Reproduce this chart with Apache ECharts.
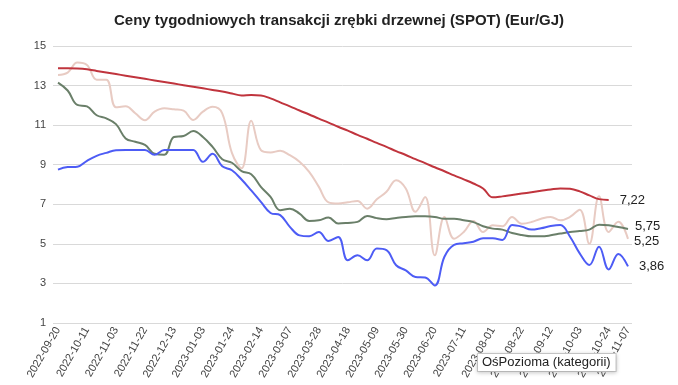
<!DOCTYPE html>
<html>
<head>
<meta charset="utf-8">
<script src="https://cdn.jsdelivr.net/npm/echarts@6/dist/echarts.min.js"></script>
<style>
html,body{margin:0;padding:0;background:#fff;}
#chart{width:678px;height:385px;}
</style>
</head>
<body>
<div id="chart"></div>
<script>
const titleText = 'Ceny tygodniowych transakcji zrębki drzewnej (SPOT) (Eur/GJ)';
const axisTitle = 'OśPozioma (kategorii)';

const categories = [
  '2022-09-20','2022-09-27','2022-10-04','2022-10-11','2022-10-18','2022-10-25',
  '2022-11-03','2022-11-08','2022-11-15','2022-11-22','2022-11-29','2022-12-06',
  '2022-12-13','2022-12-20','2022-12-27','2023-01-03','2023-01-10','2023-01-17',
  '2023-01-24','2023-01-31','2023-02-07','2023-02-14','2023-02-21','2023-02-28',
  '2023-03-07','2023-03-14','2023-03-21','2023-03-28','2023-04-04','2023-04-11',
  '2023-04-18','2023-04-25','2023-05-02','2023-05-09','2023-05-16','2023-05-23',
  '2023-05-30','2023-06-06','2023-06-13','2023-06-20','2023-06-27','2023-07-04',
  '2023-07-11','2023-07-18','2023-07-25','2023-08-01','2023-08-08','2023-08-15',
  '2023-08-22','2023-08-29','2023-09-05','2023-09-12','2023-09-19','2023-09-26',
  '2023-10-03','2023-10-10','2023-10-17','2023-10-24','2023-10-31','2023-11-07'
];

const redSeries = [
  13.87,13.87,13.86,13.82,13.74,13.66,13.58,13.5,13.42,13.34,
  13.26,13.18,13.1,13.02,12.94,12.86,12.78,12.7,12.6,12.5,
  12.52,12.5,12.35,12.15,11.95,11.74,11.54,11.33,11.13,10.92,
  10.72,10.51,10.31,10.1,9.9,9.69,9.49,9.28,9.08,8.87,
  8.67,8.46,8.26,8.05,7.8,7.35,7.4,7.47,7.54,7.61,
  7.68,7.75,7.8,7.78,7.65,7.45,7.26,7.22
];

const pinkSeries = [
  13.53,13.65,14.16,14.04,13.3,13.3,11.9,11.95,11.6,11.25,
  11.68,11.85,11.8,11.73,11.26,11.68,11.93,11.6,9.6,8.82,
  11.22,9.74,9.62,9.7,9.48,9.15,8.64,7.88,7.1,7.04,
  7.1,7.17,6.78,7.25,7.63,8.22,7.8,6.62,7.37,4.42,
  6.36,5.26,5.6,6.16,5.6,5.94,5.89,6.36,6.02,6.1,
  6.27,6.36,6.19,6.36,6.73,5.0,7.4,5.6,6.12,5.25
];

const greenSeries = [
  13.15,12.75,12.02,11.95,11.5,11.34,11.05,10.33,10.16,10.0,
  9.55,9.5,10.4,10.45,10.7,10.4,9.9,9.28,9.1,8.68,
  8.52,7.88,7.37,6.7,6.78,6.53,6.16,6.19,6.33,6.03,
  6.06,6.11,6.41,6.3,6.25,6.31,6.36,6.39,6.39,6.36,
  6.27,6.27,6.19,6.1,5.89,5.77,5.72,5.55,5.45,5.38,
  5.38,5.43,5.52,5.6,5.65,5.72,5.97,5.94,5.85,5.75
];

const blueSeries = [
  8.75,8.88,8.9,9.2,9.45,9.6,9.73,9.74,9.74,9.74,
  9.5,9.74,9.74,9.74,9.75,9.15,9.55,8.92,8.72,8.25,
  7.7,7.12,6.56,6.45,5.86,5.43,5.38,5.6,5.15,5.35,
  4.17,4.42,4.17,4.76,4.68,3.92,3.66,3.33,3.3,2.9,
  4.35,4.95,5.03,5.11,5.28,5.28,5.2,5.95,5.87,5.72,
  5.79,5.9,5.95,5.36,4.52,3.93,4.86,3.71,4.49,3.86
];

const yTicks = [1,3,5,7,9,11,13,15];

const FONT = 'Arial, "Liberation Sans", Helvetica, sans-serif';
const chart = echarts.init(document.getElementById('chart'), null, {renderer:'canvas'});

function mkSeries(name, data, color, dist, offY, z) {
  return {
    name: name,
    type: 'line',
    xAxisIndex: 1,
    yAxisIndex: 1,
    data: data,
    smooth: 0.4,
    showSymbol: false,
    symbol: 'none',
    z: z,
    lineStyle: {color: color, width: 2},
    itemStyle: {color: color},
    endLabel: {
      show: true,
      distance: dist,
      offset: [0, offY],
      color: '#222',
      fontSize: 13,
      fontFamily: FONT,
      formatter: function (p) { return Number(p.value).toFixed(2).replace('.', ','); }
    },
    emphasis: {disabled: true}
  };
}

const yMin = yTicks[0], yMax = yTicks[yTicks.length - 1];

chart.setOption({
  animation: false,
  backgroundColor: '#fff',
  title: {
    text: titleText,
    left: 'center',
    top: 8,
    textStyle: {fontFamily: FONT, fontSize: 15, fontWeight: 'bold', color: '#222'}
  },
  grid: [
    {left: 53, right: 46, top: 46, bottom: 62},
    {left: 58, right: 50, top: 46, bottom: 62}
  ],
  xAxis: [
    {
      type: 'value', gridIndex: 0, min: 0, max: 1, show: false
    },
    {
      type: 'category',
      gridIndex: 1,
      data: categories,
      boundaryGap: false,
      axisLine: {show: false},
      axisTick: {show: false},
      axisLabel: {
        rotate: 60,
        fontSize: 11,
        color: '#444',
        fontFamily: FONT,
        margin: 5,
        interval: function (i) { return i % 3 === 0 || i === categories.length - 1; }
      },
      splitLine: {show: false}
    }
  ],
  yAxis: [
    {
      type: 'value',
      gridIndex: 0,
      min: yMin,
      max: yMax,
      interval: 2,
      axisLine: {show: false},
      axisTick: {show: false},
      axisLabel: {fontSize: 11, color: '#444', fontFamily: FONT, margin: 7},
      splitLine: {lineStyle: {color: '#d9d9d9', width: 1}}
    },
    {
      type: 'value',
      gridIndex: 1,
      min: yMin,
      max: yMax,
      interval: 2,
      show: false,
      splitLine: {show: false}
    }
  ],
  series: [
    mkSeries('pink', pinkSeries, '#e8cbc3', 6, 3, 2),
    mkSeries('green', greenSeries, '#6a7f69', 7, -3, 3),
    mkSeries('blue', blueSeries, '#4d5cf5', 11, 0, 4),
    mkSeries('red', redSeries, '#c0343d', 11, 0, 5)
  ],
  graphic: [{
    type: 'text',
    left: 477,
    top: 353,
    z: 100,
    zlevel: 1,
    style: {
      text: axisTitle,
      font: '13px ' + FONT,
      fill: '#222',
      backgroundColor: '#fff',
      borderColor: '#cccccc',
      borderWidth: 1,
      padding: [2, 5, 2, 4],
      shadowBlur: 4,
      shadowColor: 'rgba(0,0,0,0.18)',
      shadowOffsetY: 1
    }
  }]
});
</script>
</body>
</html>
